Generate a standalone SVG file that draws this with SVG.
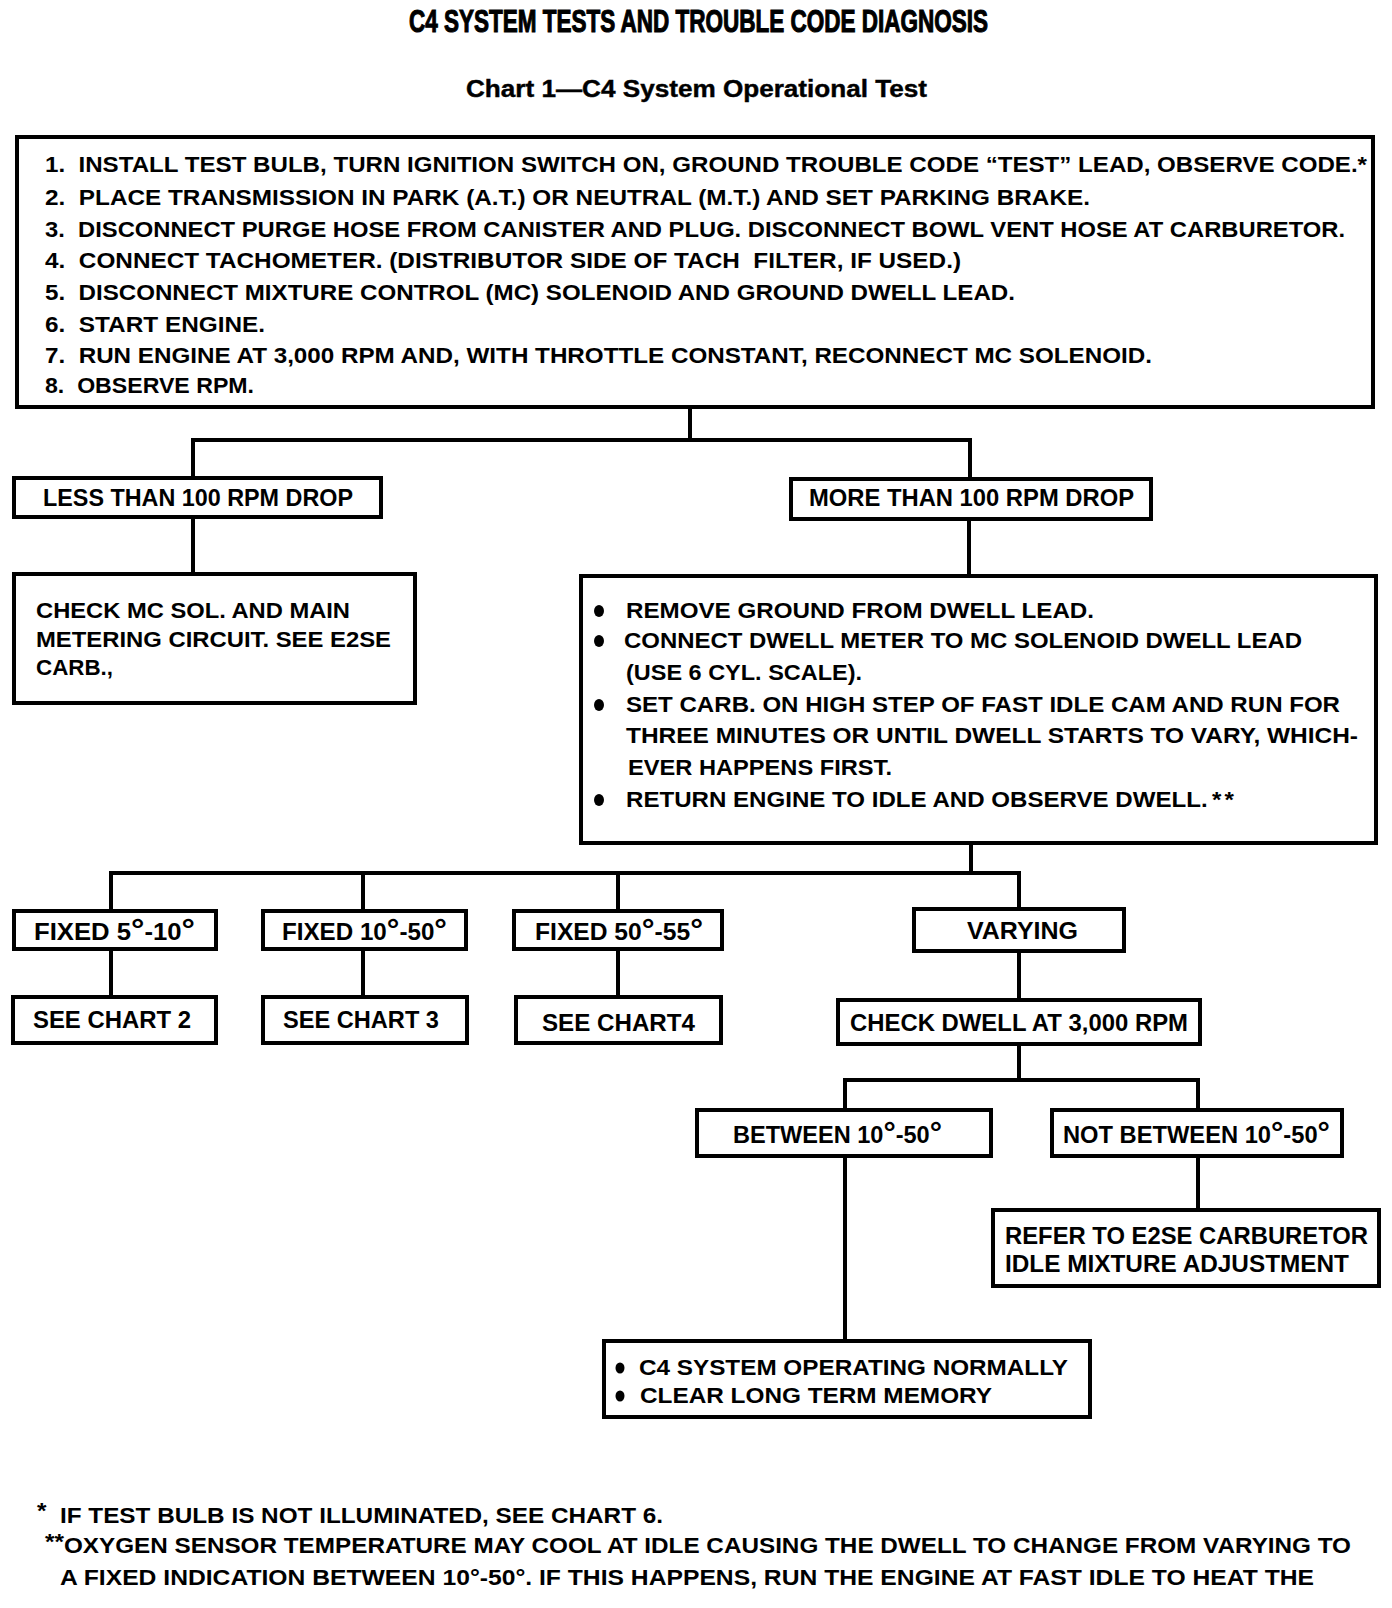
<svg xmlns="http://www.w3.org/2000/svg" width="1392" height="1608" viewBox="0 0 1392 1608">
<style>
  text { font-family: "Liberation Sans", Arial, sans-serif; font-weight: bold; fill: #000; }
  .box { fill: #fff; stroke: #000; stroke-width: 4; }
  .wire { fill: none; stroke: #000; stroke-width: 4; stroke-linejoin: miter; stroke-linecap: square; }
  .t22 { font-size: 22px; }
  .t23 { font-size: 23px; }
  .deg { font-size: 30px; }
  .bul { fill: #000; }
</style>
<rect x="0" y="0" width="1392" height="1608" fill="#fff"/>

<g id="title">
  <text x="409" y="32" font-size="31" textLength="579" lengthAdjust="spacingAndGlyphs" stroke="#000" stroke-width="1.1">C4 SYSTEM TESTS AND TROUBLE CODE DIAGNOSIS</text>
  <text x="466" y="97" font-size="23" textLength="461" lengthAdjust="spacingAndGlyphs" stroke="#000" stroke-width="0.4">Chart 1—C4 System Operational Test</text>
</g>

<g id="connectors">
  <polyline class="wire" points="690,407 690,440"/>
  <polyline class="wire" points="193,478 193,440 970,440 970,479"/>
  <polyline class="wire" points="193,518 193,574"/>
  <polyline class="wire" points="969,520 969,574"/>
  <polyline class="wire" points="971,845 971,873"/>
  <polyline class="wire" points="111,911 111,873 1019,873 1019,909"/>
  <polyline class="wire" points="363,873 363,911"/>
  <polyline class="wire" points="618,873 618,911"/>
  <polyline class="wire" points="111,948 111,997"/>
  <polyline class="wire" points="363,948 363,997"/>
  <polyline class="wire" points="618,948 618,997"/>
  <polyline class="wire" points="1019,950 1019,1000"/>
  <polyline class="wire" points="1019,1043 1019,1080"/>
  <polyline class="wire" points="845,1110 845,1080 1198,1080 1198,1110"/>
  <polyline class="wire" points="845,1155 845,1341"/>
  <polyline class="wire" points="1198,1155 1198,1210"/>
</g>

<g id="node-steps">
  <rect class="box" x="17" y="137" width="1356" height="270"/>
  <text class="t22" x="45" y="172" textLength="1322" lengthAdjust="spacingAndGlyphs">1.&#160; INSTALL TEST BULB, TURN IGNITION SWITCH ON, GROUND TROUBLE CODE “TEST” LEAD, OBSERVE CODE.*</text>
  <text class="t22" x="45" y="205" textLength="1045" lengthAdjust="spacingAndGlyphs">2.&#160; PLACE TRANSMISSION IN PARK (A.T.) OR NEUTRAL (M.T.) AND SET PARKING BRAKE.</text>
  <text class="t22" x="45" y="237" textLength="1300" lengthAdjust="spacingAndGlyphs">3.&#160; DISCONNECT PURGE HOSE FROM CANISTER AND PLUG. DISCONNECT BOWL VENT HOSE AT CARBURETOR.</text>
  <text class="t22" x="45" y="268" textLength="916" lengthAdjust="spacingAndGlyphs">4.&#160; CONNECT TACHOMETER. (DISTRIBUTOR SIDE OF TACH&#160; FILTER, IF USED.)</text>
  <text class="t22" x="45" y="300" textLength="970" lengthAdjust="spacingAndGlyphs">5.&#160; DISCONNECT MIXTURE CONTROL (MC) SOLENOID AND GROUND DWELL LEAD.</text>
  <text class="t22" x="45" y="332" textLength="220" lengthAdjust="spacingAndGlyphs">6.&#160; START ENGINE.</text>
  <text class="t22" x="45" y="363" textLength="1107" lengthAdjust="spacingAndGlyphs">7.&#160; RUN ENGINE AT 3,000 RPM AND, WITH THROTTLE CONSTANT, RECONNECT MC SOLENOID.</text>
  <text class="t22" x="45" y="393" textLength="209" lengthAdjust="spacingAndGlyphs">8.&#160; OBSERVE RPM.</text>
</g>

<g id="node-less">
  <rect class="box" x="14" y="478" width="367" height="39"/>
  <text class="t23" x="43" y="506" textLength="310" lengthAdjust="spacingAndGlyphs">LESS THAN 100 RPM DROP</text>
</g>

<g id="node-more">
  <rect class="box" x="791" y="479" width="360" height="40"/>
  <text class="t23" x="809" y="506" textLength="325" lengthAdjust="spacingAndGlyphs">MORE THAN 100 RPM DROP</text>
</g>

<g id="node-check-mc">
  <rect class="box" x="14" y="574" width="401" height="129"/>
  <text class="t22" x="36" y="618" textLength="314" lengthAdjust="spacingAndGlyphs">CHECK MC SOL. AND MAIN</text>
  <text class="t22" x="36" y="647" textLength="355" lengthAdjust="spacingAndGlyphs">METERING CIRCUIT. SEE E2SE</text>
  <text class="t22" x="36" y="675" textLength="77" lengthAdjust="spacingAndGlyphs">CARB.,</text>
</g>

<g id="node-dwell-test">
  <rect class="box" x="581" y="576" width="795" height="267"/>
  <ellipse class="bul" cx="599" cy="611" rx="5" ry="6"/>
  <ellipse class="bul" cx="599" cy="641" rx="5" ry="6"/>
  <ellipse class="bul" cx="599" cy="705" rx="5" ry="6"/>
  <ellipse class="bul" cx="599" cy="800" rx="5" ry="6"/>
  <text class="t22" x="626" y="618" textLength="468" lengthAdjust="spacingAndGlyphs">REMOVE GROUND FROM DWELL LEAD.</text>
  <text class="t22" x="624" y="648" textLength="678" lengthAdjust="spacingAndGlyphs">CONNECT DWELL METER TO MC SOLENOID DWELL LEAD</text>
  <text class="t22" x="626" y="680" textLength="236" lengthAdjust="spacingAndGlyphs">(USE 6 CYL. SCALE).</text>
  <text class="t22" x="626" y="712" textLength="714" lengthAdjust="spacingAndGlyphs">SET CARB. ON HIGH STEP OF FAST IDLE CAM AND RUN FOR</text>
  <text class="t22" x="626" y="743" textLength="732" lengthAdjust="spacingAndGlyphs">THREE MINUTES OR UNTIL DWELL STARTS TO VARY, WHICH-</text>
  <text class="t22" x="628" y="775" textLength="264" lengthAdjust="spacingAndGlyphs">EVER HAPPENS FIRST.</text>
  <text class="t22" x="626" y="807" textLength="608" lengthAdjust="spacingAndGlyphs">RETURN ENGINE TO IDLE AND OBSERVE DWELL.<tspan dx="4">*</tspan><tspan dx="3">*</tspan></text>
</g>

<g id="node-fixed-5-10">
  <rect class="box" x="14" y="911" width="202" height="38"/>
  <text class="t23" x="34" y="940" textLength="161" lengthAdjust="spacingAndGlyphs">FIXED 5<tspan class="deg">°</tspan>-10<tspan class="deg">°</tspan></text>
</g>
<g id="node-fixed-10-50">
  <rect class="box" x="263" y="911" width="203" height="38"/>
  <text class="t23" x="282" y="940" textLength="165" lengthAdjust="spacingAndGlyphs">FIXED 10<tspan class="deg">°</tspan>-50<tspan class="deg">°</tspan></text>
</g>
<g id="node-fixed-50-55">
  <rect class="box" x="514" y="911" width="208" height="38"/>
  <text class="t23" x="535" y="940" textLength="168" lengthAdjust="spacingAndGlyphs">FIXED 50<tspan class="deg">°</tspan>-55<tspan class="deg">°</tspan></text>
</g>
<g id="node-varying">
  <rect class="box" x="914" y="909" width="210" height="42"/>
  <text class="t23" x="967" y="939" textLength="111" lengthAdjust="spacingAndGlyphs">VARYING</text>
</g>

<g id="node-chart2">
  <rect class="box" x="13" y="997" width="203" height="46"/>
  <text class="t23" x="33" y="1028" textLength="158" lengthAdjust="spacingAndGlyphs">SEE CHART 2</text>
</g>
<g id="node-chart3">
  <rect class="box" x="263" y="997" width="204" height="46"/>
  <text class="t23" x="283" y="1028" textLength="156" lengthAdjust="spacingAndGlyphs">SEE CHART 3</text>
</g>
<g id="node-chart4">
  <rect class="box" x="516" y="997" width="205" height="46"/>
  <text class="t23" x="542" y="1031" textLength="153" lengthAdjust="spacingAndGlyphs">SEE CHART4</text>
</g>

<g id="node-check-dwell">
  <rect class="box" x="838" y="1000" width="362" height="44"/>
  <text class="t23" x="850" y="1031" textLength="338" lengthAdjust="spacingAndGlyphs">CHECK DWELL AT 3,000 RPM</text>
</g>

<g id="node-between">
  <rect class="box" x="697" y="1110" width="294" height="46"/>
  <text class="t23" x="733" y="1143" textLength="209" lengthAdjust="spacingAndGlyphs">BETWEEN 10<tspan class="deg">°</tspan>-50<tspan class="deg">°</tspan></text>
</g>
<g id="node-not-between">
  <rect class="box" x="1052" y="1110" width="290" height="46"/>
  <text class="t23" x="1063" y="1143" textLength="267" lengthAdjust="spacingAndGlyphs">NOT BETWEEN 10<tspan class="deg">°</tspan>-50<tspan class="deg">°</tspan></text>
</g>

<g id="node-refer">
  <rect class="box" x="993" y="1210" width="386" height="76"/>
  <text class="t23" x="1005" y="1244" textLength="363" lengthAdjust="spacingAndGlyphs">REFER TO E2SE CARBURETOR</text>
  <text class="t23" x="1005" y="1272" textLength="344" lengthAdjust="spacingAndGlyphs">IDLE MIXTURE ADJUSTMENT</text>
</g>

<g id="node-normal">
  <rect class="box" x="604" y="1341" width="486" height="76"/>
  <ellipse class="bul" cx="620" cy="1368" rx="4.5" ry="5.5"/>
  <ellipse class="bul" cx="620" cy="1396" rx="4.5" ry="5.5"/>
  <text class="t22" x="639" y="1375" textLength="429" lengthAdjust="spacingAndGlyphs">C4 SYSTEM OPERATING NORMALLY</text>
  <text class="t22" x="640" y="1403" textLength="352" lengthAdjust="spacingAndGlyphs">CLEAR LONG TERM MEMORY</text>
</g>

<g id="footnotes">
  <text class="t22" x="37" y="1523" textLength="626" lengthAdjust="spacingAndGlyphs"><tspan dy="-5">*</tspan><tspan dy="5">&#160;&#160;IF TEST BULB IS NOT ILLUMINATED, SEE CHART 6.</tspan></text>
  <text class="t22" x="45" y="1553" textLength="1306" lengthAdjust="spacingAndGlyphs"><tspan dy="-4">**</tspan><tspan dy="4">OXYGEN SENSOR TEMPERATURE MAY COOL AT IDLE CAUSING THE DWELL TO CHANGE FROM VARYING TO</tspan></text>
  <text class="t22" x="60" y="1585" textLength="1254" lengthAdjust="spacingAndGlyphs">A FIXED INDICATION BETWEEN 10°-50°. IF THIS HAPPENS, RUN THE ENGINE AT FAST IDLE TO HEAT THE</text>
</g>
</svg>
